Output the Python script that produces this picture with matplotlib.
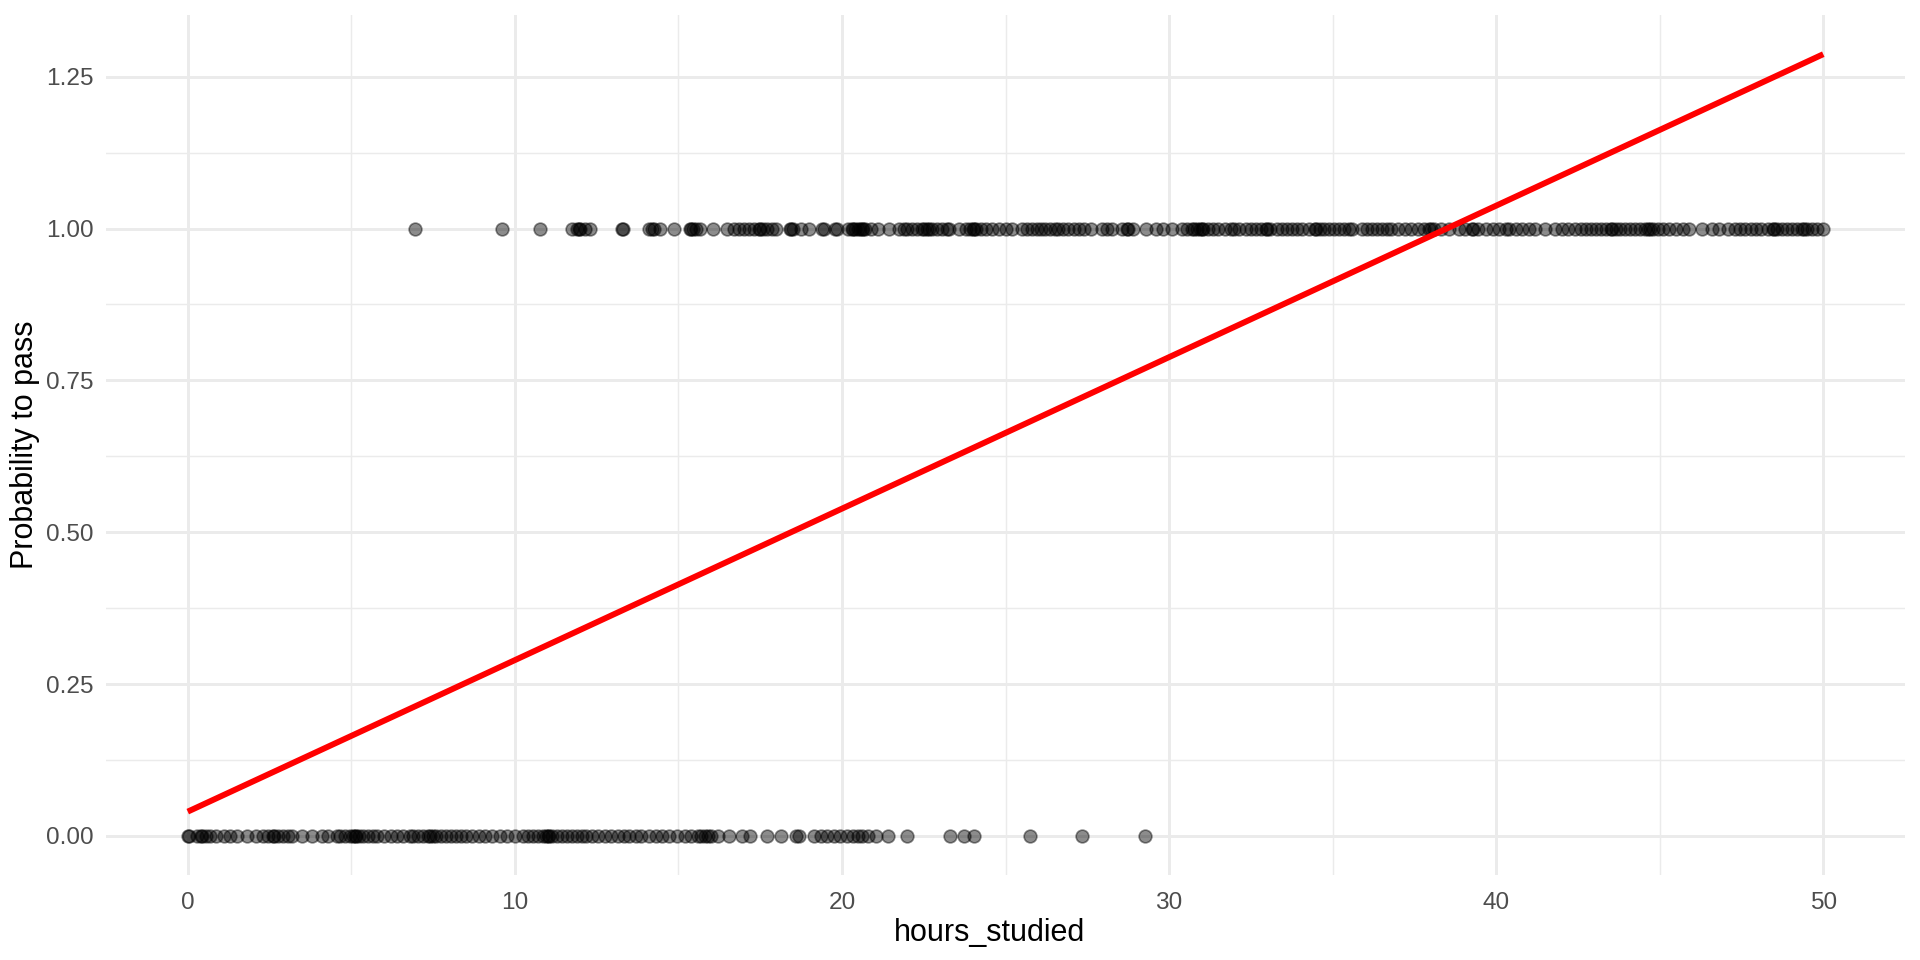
import matplotlib.pyplot as plt
from matplotlib.ticker import MultipleLocator

# hours studied by students who passed (y = 1)
passed_hours = [
    6.95, 9.6, 10.77, 11.75, 11.9, 11.95, 12.0, 12.15, 12.3,
    13.28, 13.3, 14.1, 14.2, 14.25, 14.45, 14.87, 15.35, 15.4, 15.45, 15.55, 15.65, 16.07,
    16.5, 16.7, 16.85, 17.0, 17.15, 17.3, 17.45, 17.5, 17.6, 17.7, 17.85, 17.98,
    18.4, 18.45, 18.5, 18.74, 19.0, 19.4, 19.45, 19.8, 19.85, 20.2, 20.3, 20.35, 20.4,
    20.5, 20.55, 20.6, 20.65, 20.7, 20.9, 21.1, 21.44, 21.75, 21.9, 22.0, 22.15,
    22.3, 22.45, 22.5, 22.6, 22.65, 22.75, 22.9, 23.05, 23.2, 23.27, 23.58, 23.78,
    23.9, 24.0, 24.05, 24.1, 24.25, 24.4, 24.6, 24.8, 25.0, 25.2, 25.5, 25.65,
    25.8, 25.95, 26.1, 26.2, 26.35, 26.5, 26.6, 26.75, 26.9, 27.1, 27.25, 27.4,
    27.6, 27.95, 28.1, 28.25, 28.56, 28.7, 28.75, 28.9, 29.3, 29.6, 29.8, 30.1,
    30.4, 30.55, 30.7, 30.75, 30.85, 30.95, 31.0, 31.05, 31.2, 31.35, 31.5, 31.7,
    31.9, 32.0, 32.15, 32.35, 32.5, 32.65, 32.8, 32.95, 33.0, 33.1, 33.3, 33.45,
    33.6, 33.75, 33.9, 34.06, 34.27, 34.45, 34.5, 34.6, 34.75, 34.9, 35.05, 35.2,
    35.35, 35.5, 35.6, 35.9, 36.05, 36.2, 36.35, 36.5, 36.65, 36.8, 37.0, 37.2,
    37.4, 37.6, 37.8, 37.95, 38.0, 38.1, 38.3, 38.55, 38.85, 39.05, 39.25, 39.3,
    39.45, 39.7, 39.9, 40.1, 40.3, 40.4, 40.6, 40.8, 41.0, 41.2, 41.5, 41.8,
    42.0, 42.2, 42.4, 42.6, 42.75, 42.9, 43.05, 43.2, 43.35, 43.5, 43.55, 43.65,
    43.8, 43.95, 44.1, 44.25, 44.4, 44.55, 44.65, 44.7, 44.8, 44.95, 45.1, 45.27,
    45.5, 45.7, 45.9, 46.3, 46.6, 46.8, 47.1, 47.3, 47.45, 47.6, 47.8, 47.95,
    48.1, 48.3, 48.45, 48.5, 48.6, 48.75, 48.9, 49.05, 49.2, 49.35, 49.4, 49.5,
    49.65, 49.8, 50.0,
]

# hours studied by students who failed (y = 0)
failed_hours = [
    0.0, 0.05, 0.27, 0.4, 0.45, 0.55, 0.67, 0.87, 1.1, 1.3, 1.5, 1.8,
    2.1, 2.3, 2.45, 2.6, 2.65, 2.75, 2.9, 3.05, 3.2, 3.5, 3.8, 4.1, 4.3, 4.55,
    4.64, 4.8, 4.95, 5.05, 5.1, 5.15, 5.25, 5.35, 5.5, 5.65, 5.8, 6.0, 6.2, 6.4,
    6.57, 6.78, 6.9, 7.05, 7.2, 7.35, 7.4, 7.5, 7.6, 7.75, 7.9, 8.05, 8.2, 8.35,
    8.5, 8.7, 8.9, 9.1, 9.3, 9.55, 9.75, 10.0, 10.24, 10.4, 10.55, 10.7, 10.85,
    10.95, 11.0, 11.05, 11.15, 11.3, 11.45, 11.6, 11.75, 11.9, 12.05, 12.18,
    12.35, 12.55, 12.75, 12.95, 13.15, 13.35, 13.5, 13.7, 13.85, 14.1, 14.3,
    14.5, 14.7, 14.95, 15.2, 15.4, 15.6, 15.7, 15.8, 15.9, 16.0, 16.2, 16.55,
    16.95, 17.2, 17.7, 18.13, 18.6, 18.7, 19.15, 19.35, 19.55, 19.75, 19.95,
    20.15, 20.35, 20.5, 20.6, 20.8, 21.03, 21.4, 22.0, 23.3, 23.73, 24.04,
    25.74, 27.35, 29.26,
]

# fitted linear model
fit_x = [0, 50]
fit_y = [0.04, 1.287]

plt.rcParams['font.family'] = ['Liberation Sans', 'DejaVu Sans']

fig = plt.figure(figsize=(9.6, 4.8), dpi=200)
ax = fig.add_axes([0.0552, 0.0885, 0.937, 0.8958])

ax.scatter(failed_hours, [0] * len(failed_hours), s=21, c='black', alpha=0.45,
           edgecolors='black', linewidths=0.6, zorder=3)
ax.scatter(passed_hours, [1] * len(passed_hours), s=21, c='black', alpha=0.45,
           edgecolors='black', linewidths=0.6, zorder=3)
ax.plot(fit_x, fit_y, color='#FF0000', lw=2.13, zorder=4, solid_capstyle='butt')

ax.set_xlim(-2.5, 52.5)
ax.set_ylim(-0.0644, 1.3514)

ax.xaxis.set_major_locator(MultipleLocator(10))
ax.xaxis.set_minor_locator(MultipleLocator(5))
ax.yaxis.set_major_locator(MultipleLocator(0.25))
ax.yaxis.set_minor_locator(MultipleLocator(0.125))
ax.yaxis.set_major_formatter(lambda v, p: f"{v:.2f}")

ax.grid(which='major', color='#EBEBEB', lw=1.07)
ax.grid(which='minor', color='#EBEBEB', lw=0.53)
ax.set_axisbelow(True)
for s in ax.spines.values():
    s.set_visible(False)

ax.tick_params(which='both', length=0)
ax.tick_params(axis='x', pad=6, labelsize=8.8, labelcolor='#4D4D4D')
ax.tick_params(axis='y', pad=4.5, labelsize=8.8, labelcolor='#4D4D4D')

fig.text(0.5155, 1 - 933 / 960, 'hours_studied', ha='center', va='center', fontsize=11)
fig.text(25 / 1920, 1 - 445 / 960, 'Probability to pass', ha='center', va='center',
         rotation=90, fontsize=11)

fig.savefig('out.png', dpi=200, facecolor='white')
